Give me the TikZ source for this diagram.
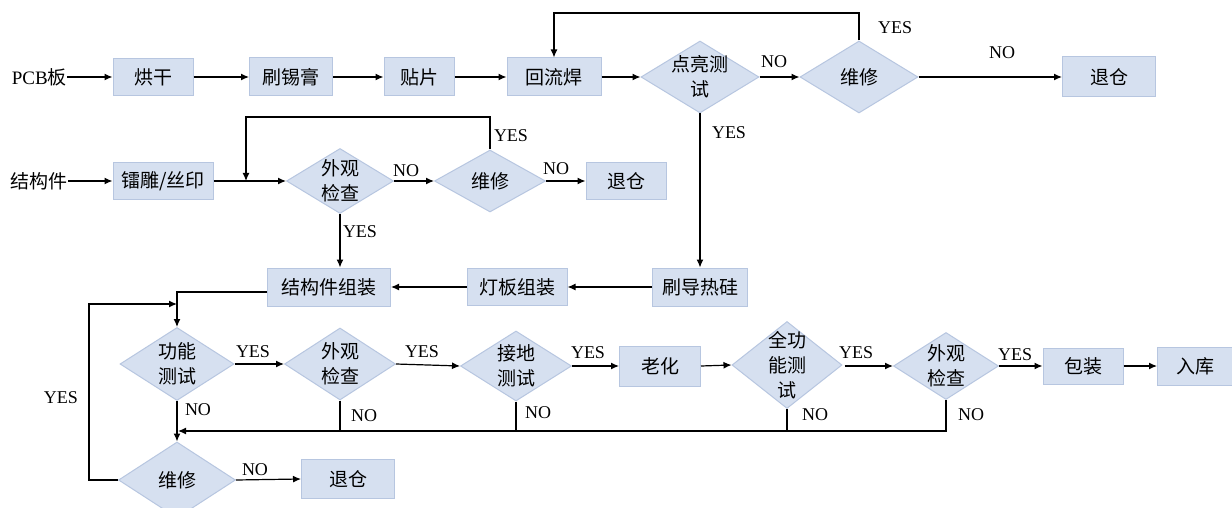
\documentclass[tikz,border=0pt]{standalone}
\usepackage{fontspec}
\setmainfont{Liberation Serif}
\newfontfamily\cjk{Noto Sans CJK SC}
\usetikzlibrary{shapes.geometric,arrows.meta,calc}
\definecolor{bfill}{HTML}{D6E0F0}
\definecolor{bdraw}{HTML}{B7C6E0}
\begin{document}
\begin{tikzpicture}[x=1pt,y=-1pt,
 cn/.style={font=\cjk\fontsize{19}{25}\selectfont},
 box/.style={cn, rectangle, fill=bfill, draw=bdraw, line width=1pt, inner sep=0pt},
 dia/.style={diamond, fill=bfill, draw=bdraw, line width=1pt, inner sep=0pt},
 dtext/.style={cn, align=center, inner sep=0pt},
 lab/.style={font=\fontsize{18}{18}\selectfont, inner sep=0pt},
 arr/.style={line width=1.2pt, -{Latex[length=8pt,width=7pt]}},
 ln/.style={line width=1.2pt},
]
\useasboundingbox (0,0) rectangle (1232,508);
\clip (0,0) rectangle (1232,508);
\fill[white] (0,0) rectangle (1232,508);

% ---- top row
\node[anchor=east, inner sep=0pt, font=\fontsize{19}{19}\selectfont] (pcb) at (67,77) {PCB{\cjk 板}};
\node[box, minimum width=80pt, minimum height=37pt] (hg) at (153,77) {烘干};
\node[box, minimum width=83pt, minimum height=38pt] (sxg) at (291,77) {刷锡膏};
\node[box, minimum width=70pt, minimum height=38pt] (tp) at (419,77) {贴片};
\node[box, minimum width=94pt, minimum height=38pt] (hlh) at (554,77) {回流焊};
\node[dia, minimum width=118pt, minimum height=72pt, label={[dtext]center:{点亮测\\试}}] (ldcs) at (700,77) {};
\node[dia, minimum width=118pt, minimum height=72pt, label={[dtext]center:维修}] (wx1) at (859,77) {};
\node[box, minimum width=93pt, minimum height=40pt] (tc1) at (1109,77) {退仓};

\draw[arr] (pcb.east) -- (hg.west);
\draw[arr] (hg.east) -- (sxg.west);
\draw[arr] (sxg.east) -- (tp.west);
\draw[arr] (tp.east) -- (hlh.west);
\draw[arr] (hlh.east) -- (ldcs.west);
\draw[arr] (ldcs.east) -- (wx1.west);
\draw[arr] (wx1.east) -- (tc1.west);
\coordinate (t1) at (0,13);
\draw[arr] (wx1.north) -- (wx1.north |- t1) -- (hlh.north |- t1) -- (hlh.north);
\node[lab] (l1) at (774,62) {NO};
\node[lab] (l2) at (895,28) {YES};
\node[lab] (l3) at (1002,53) {NO};
\node[lab] (l4) at (729,133) {YES};

% ---- middle row
\node[anchor=east, inner sep=0pt, cn] (jgj) at (68,181) {结构件};
\node[box, minimum width=100pt, minimum height=36pt] (ldsy) at (163,181) {镭雕/丝印};
\node[dia, minimum width=107pt, minimum height=65pt, label={[dtext]center:{外观\\检查}}] (wg1) at (340,181) {};
\node[dia, minimum width=111pt, minimum height=62pt, label={[dtext]center:维修}] (wx2) at (490,181) {};
\node[box, minimum width=80pt, minimum height=36pt] (tc2) at (626,181) {退仓};

\draw[arr] (jgj.east) -- (ldsy.west);
\draw[arr] (ldsy.east) -- (wg1.west);
\draw[arr] (wg1.east) -- (wx2.west);
\draw[arr] (wx2.east) -- (tc2.west);
\coordinate (t2) at (246,117);
\coordinate (j2) at (246,181);
\draw[arr] (wx2.north) |- (t2) -- (j2);
\node[lab] (l5) at (406,171) {NO};
\node[lab] (l6) at (511,136) {YES};
\node[lab] (l7) at (556,169) {NO};
\node[lab] (l8) at (360,232) {YES};

% ---- third row
\node[box, minimum width=123pt, minimum height=38pt] (jgz) at (329,287) {结构件组装};
\node[box, minimum width=100pt, minimum height=37pt] (dbz) at (517,287) {灯板组装};
\node[box, minimum width=95pt, minimum height=38pt] (drs) at (700,287) {刷导热硅};

\draw[arr] (ldcs.south) -- (drs.north);
\draw[arr] (wg1.south) -- (wg1.south |- jgz.north);
\draw[arr] (drs.west) -- (dbz.east);
\draw[arr] (dbz.west) -- (jgz.east);

% ---- fourth row
\node[dia, minimum width=114pt, minimum height=73pt, label={[dtext]center:{功能\\测试}}] (gn) at (177,364) {};
\node[dia, minimum width=111pt, minimum height=72pt, label={[dtext]center:{外观\\检查}}] (wg2) at (340,364) {};
\node[dia, minimum width=111pt, minimum height=70pt, label={[dtext]center:{接地\\测试}}] (jd) at (516,366) {};
\node[box, minimum width=81pt, minimum height=40pt] (lh) at (660,366) {老化};
\node[dia, minimum width=110pt, minimum height=87pt, label={[dtext]center:{全功\\能测\\试}}] (qgn) at (787,365) {};
\node[dia, minimum width=105pt, minimum height=67pt, label={[dtext]center:{外观\\检查}}] (wg3) at (946,366) {};
\node[box, minimum width=80pt, minimum height=36pt] (bz) at (1083,366) {包装};
\node[box, minimum width=75pt, minimum height=38pt] (rk) at (1195,366) {入库};

\draw[arr] ([yshift=-5pt]jgz.west) -| (gn.north);
\draw[arr] (gn.east) -- (wg2.west);
\draw[arr] (wg2.east) -- (jd.west);
\draw[arr] (jd.east) -- (lh.west);
\draw[arr] (lh.east) -- (qgn.west);
\draw[arr] ([xshift=2pt]qgn.east |- wg3.west) -- (wg3.west);
\draw[arr] (wg3.east) -- (bz.west);
\draw[arr] (bz.east) -- (rk.west);
\node[lab] (l9) at (253,352) {YES};
\node[lab] (l10) at (422,352) {YES};
\node[lab] (l11) at (588,353) {YES};
\node[lab] (l12) at (856,353) {YES};
\node[lab] (l13) at (1015,355) {YES};

% ---- bottom
\node[dia, minimum width=117pt, minimum height=76pt, label={[dtext]center:维修}] (wx3) at (177,480) {};
\node[box, minimum width=93pt, minimum height=39pt] (tc3) at (348,479) {退仓};

\coordinate (m) at (177,431);
\draw[arr] (gn.south) -- (wx3.north);
\draw[arr, shorten >=1pt] (wg3.south) |- (m);
\draw[ln] (qgn.south) -- (qgn.south |- m);
\draw[ln] (jd.south) -- (jd.south |- m);
\draw[ln] (wg2.south) -- (wg2.south |- m);
\coordinate (t3) at (89,304);
\draw[arr] (wx3.west) -| (t3) -- (t3 -| gn.north);
\draw[arr] (wx3.east) -- (tc3.west);
\node[lab] (l14) at (198,410) {NO};
\node[lab] (l15) at (364,416) {NO};
\node[lab] (l16) at (538,413) {NO};
\node[lab] (l17) at (815,415) {NO};
\node[lab] (l18) at (971,415) {NO};
\node[lab] (l19) at (61,398) {YES};
\node[lab] (l20) at (255,470) {NO};
\end{tikzpicture}
\end{document}
